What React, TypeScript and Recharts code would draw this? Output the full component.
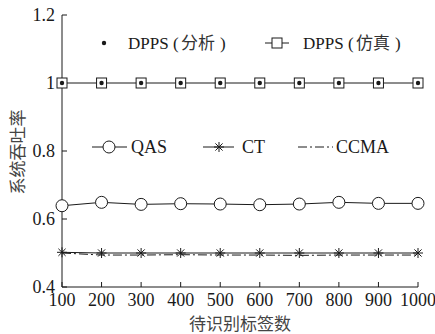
import React from 'react';
import { LineChart, Line, XAxis, YAxis } from 'recharts';

const counts = [100, 200, 300, 400, 500, 600, 700, 800, 900, 1000];
const dppsAnalysis = [1, 1, 1, 1, 1, 1, 1, 1, 1, 1];
const dppsSim = [1, 1, 1, 1, 1, 1, 1, 1, 1, 1];
const qas = [0.639, 0.649, 0.643, 0.645, 0.644, 0.642, 0.644, 0.649, 0.646, 0.646];
const ct = [0.502, 0.5, 0.5, 0.5, 0.5, 0.5, 0.5, 0.5, 0.5, 0.5];
const ccma = [0.5, 0.494, 0.494, 0.495, 0.494, 0.494, 0.493, 0.494, 0.494, 0.494];
const yTicks = [0.4, 0.6, 0.8, 1, 1.2];

const data = counts.map((n, i) => ({
  n,
  analysis: dppsAnalysis[i],
  sim: dppsSim[i],
  qas: qas[i],
  ct: ct[i],
  ccma: ccma[i],
}));

const serif = 'Liberation Serif';
const cjk = 'Noto Sans CJK SC';
const ink = '#1a1a1a';

const SquareDot = (p: any) => (
  <rect key={`sq-${p.index}`} x={p.cx - 5} y={p.cy - 5} width={10} height={10} fill="#fff" stroke={ink} strokeWidth={1} />
);
const SmallDot = (p: any) => <circle key={`pt-${p.index}`} cx={p.cx} cy={p.cy} r={2.2} fill={ink} />;
const CircleDot = (p: any) => (
  <circle key={`ci-${p.index}`} cx={p.cx} cy={p.cy} r={6} fill="#fff" stroke={ink} strokeWidth={1} />
);
const Star = ({ cx, cy, r = 5 }: any) => (
  <g stroke={ink} strokeWidth={1}>
    <line x1={cx} y1={cy - r} x2={cx} y2={cy + r} />
    <line x1={cx - r} y1={cy} x2={cx + r} y2={cy} />
    <line x1={cx - r * 0.72} y1={cy - r * 0.72} x2={cx + r * 0.72} y2={cy + r * 0.72} />
    <line x1={cx - r * 0.72} y1={cy + r * 0.72} x2={cx + r * 0.72} y2={cy - r * 0.72} />
  </g>
);
const StarDot = (p: any) => <Star key={`st-${p.index}`} cx={p.cx} cy={p.cy} />;

const tickStyle = { fontSize: 18, fill: ink, fontFamily: serif };

// one legend label: "DPPS (中文)"
const DppsLabel = ({ x, y, zh }: { x: number; y: number; zh: string }) => (
  <g fill={ink}>
    <text x={x} y={y} fontSize={17} fontFamily={serif}>DPPS</text>
    <text x={x + 45} y={y} fontSize={17} fontFamily={serif}>(</text>
    <text x={x + 53} y={y} fontSize={17} fontFamily={cjk} fill="#333">{zh}</text>
    <text x={x + 92} y={y} fontSize={17} fontFamily={serif}>)</text>
  </g>
);

export default function App() {
  return (
    <div style={{ position: 'absolute', left: 0, top: 0, width: 435, height: 334, background: '#fff' }}>
      <LineChart width={435} height={334} data={data} margin={{ top: 15, right: 17, left: 0, bottom: 0 }}>
        <XAxis
          dataKey="n"
          type="number"
          domain={[100, 1000]}
          ticks={counts}
          height={47}
          tickSize={-5}
          tickMargin={11}
          stroke={ink}
          tick={tickStyle}
          interval={0}
        />
        <XAxis xAxisId="top" dataKey="n" type="number" domain={[100, 1000]} ticks={counts} orientation="top" height={0} tickSize={-5} tick={false} stroke={ink} />
        <YAxis
          type="number"
          domain={[0.4, 1.2]}
          ticks={yTicks}
          width={62}
          tickSize={-5}
          tickMargin={12}
          stroke={ink}
          tick={tickStyle}
          tickFormatter={(v: number) => String(v)}
        />
        <YAxis yAxisId="right" type="number" domain={[0.4, 1.2]} ticks={yTicks} orientation="right" width={0} tickSize={-5} tick={false} stroke={ink} />
        <Line dataKey="sim" stroke={ink} strokeWidth={1} dot={SquareDot} isAnimationActive={false} />
        <Line dataKey="analysis" stroke="none" dot={SmallDot} isAnimationActive={false} />
        <Line dataKey="qas" stroke={ink} strokeWidth={1} dot={CircleDot} isAnimationActive={false} />
        <Line dataKey="ccma" stroke={ink} strokeWidth={1} strokeDasharray="9 3 2 3" dot={false} isAnimationActive={false} />
        <Line dataKey="ct" stroke={ink} strokeWidth={1} dot={StarDot} isAnimationActive={false} />
      </LineChart>
      <svg width={435} height={334} style={{ position: 'absolute', left: 0, top: 0, pointerEvents: 'none' }}>
        {/* legend row 1 */}
        <circle cx={104} cy={43} r={2.2} fill={ink} />
        <DppsLabel x={128} y={49} zh="分析" />
        <line x1={265} y1={43} x2={289} y2={43} stroke={ink} />
        <rect x={272} y={38} width={10} height={10} fill="#fff" stroke={ink} />
        <DppsLabel x={303} y={49} zh="仿真" />
        {/* legend row 2 */}
        <line x1={92} y1={147} x2={127} y2={147} stroke={ink} />
        <circle cx={109} cy={147} r={6} fill="#fff" stroke={ink} />
        <text x={131} y={153} fontSize={18} fill={ink} fontFamily={serif}>QAS</text>
        <line x1={203} y1={147} x2={234} y2={147} stroke={ink} />
        <Star cx={219} cy={147} />
        <text x={242} y={153} fontSize={18} fill={ink} fontFamily={serif}>CT</text>
        <line x1={298} y1={147} x2={333} y2={147} stroke={ink} strokeDasharray="9 3 2 3" />
        <text x={336} y={153} fontSize={18} fill={ink} fontFamily={serif}>CCMA</text>
        {/* axis titles */}
        <text x={240} y={330} textAnchor="middle" fontSize={17} fontFamily={cjk} fill="#444">待识别标签数</text>
        <text transform="translate(24,152) rotate(-90)" textAnchor="middle" fontSize={17} fontFamily={cjk} fill="#444">系统吞吐率</text>
      </svg>
    </div>
  );
}
